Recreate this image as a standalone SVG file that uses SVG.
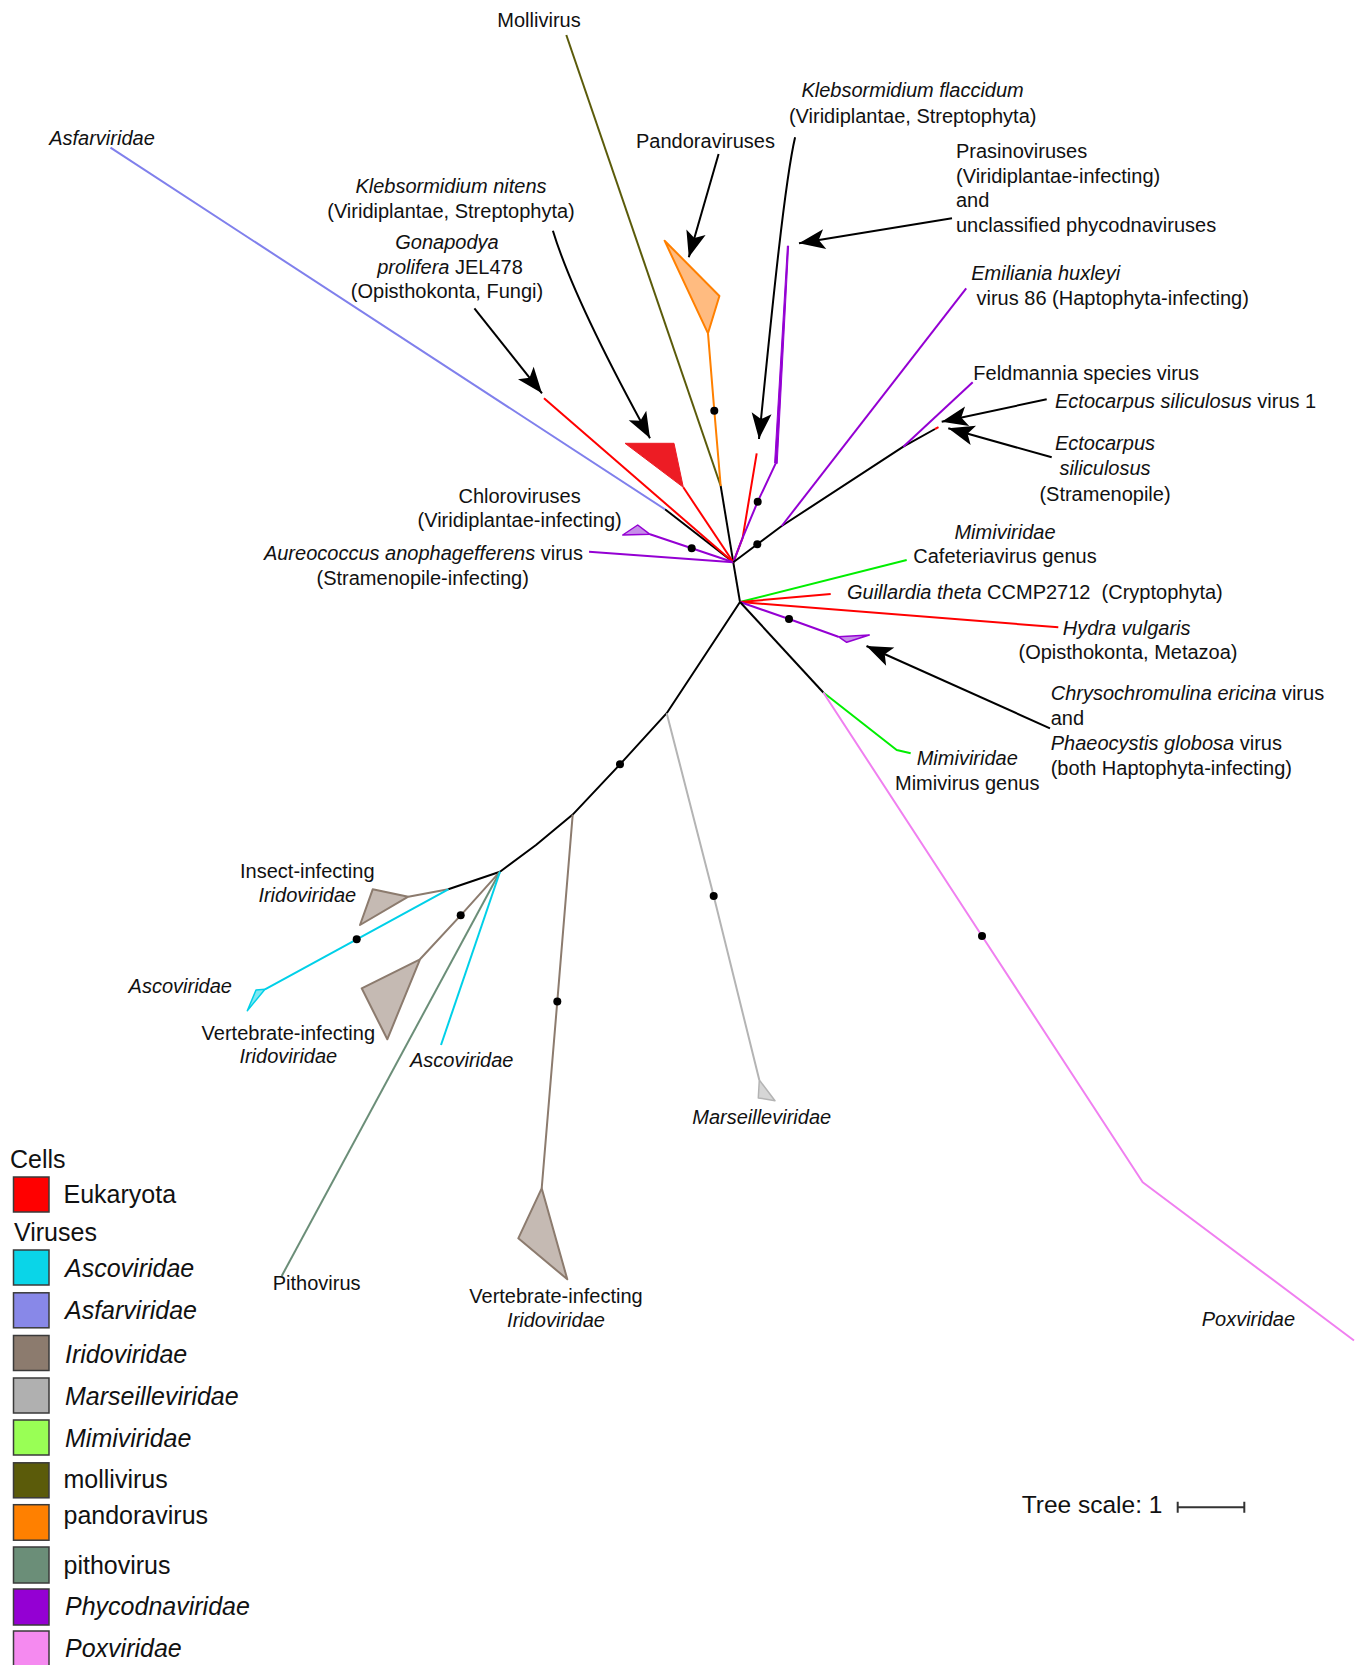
<svg xmlns="http://www.w3.org/2000/svg" width="1363" height="1665" viewBox="0 0 1363 1665">
<style>
text{font-family:"Liberation Sans",Arial,sans-serif;font-size:20px;fill:#111;white-space:pre}
.it{font-style:italic}
.m{text-anchor:middle}
.e{text-anchor:end}
.lg{font-size:25px}
.br{fill:none;stroke-width:2;stroke-linejoin:round;stroke-linecap:butt}
.k{stroke:#000}.r{stroke:#ff0000}.pu{stroke:#9400d3}.gr{stroke:#00ee00}.bl{stroke:#8080ec}
.ol{stroke:#5b5b0a}.or{stroke:#ff8000}.bn{stroke:#8c7b6e}.gy{stroke:#b4b4b4}.cy{stroke:#00d0e8}.pg{stroke:#6b8e78}.pk{stroke:#f080f0}
.dot{fill:#000}
.arr{fill:none;stroke:#000;stroke-width:2;marker-end:url(#ah)}
.box{stroke:#3a3a3a;stroke-width:1.5}
</style>
<defs>
<marker id="ah" markerUnits="userSpaceOnUse" markerWidth="30" markerHeight="24" viewBox="-27 -12 30 24" refX="0" refY="0" orient="auto">
<path d="M0,0 L-26,-10 L-20,0 L-26,10 Z" fill="#000"/>
</marker>
</defs>
<rect width="1363" height="1665" fill="#fff"/>

<g id="connectors">
<!-- tree branches -->
<polyline class="br k" points="740,602 733.3,562.3"/>
<polyline class="br k" points="733.3,562.3 720.7,486"/>
<polyline class="br ol" points="720.7,486 566.3,35"/>
<polyline class="br or" points="720.7,486 714.3,410.7 708,333.3"/>
<polyline class="br k" points="733.3,562.3 665,509.3"/>
<polyline class="br bl" points="665,509.3 110.5,147.7"/>
<polyline class="br r" points="733.3,562.3 544,398.3"/>
<polyline class="br r" points="733.3,562.3 683.3,487.3"/>
<polyline class="br pu" points="733.3,562.3 691.7,548.3 650,534.3"/>
<polyline class="br pu" points="733.3,562.3 589,551.7"/>
<polyline class="br r" points="733.3,562.3 742.7,537.7 756.7,453.3"/>
<polyline class="br pu" points="733.3,562.3 742.7,537.7 757.7,501.7 775.7,463.3"/>
<polyline class="br k" points="733.3,562.3 757.3,544.3 781.7,526 903.3,446.7 935,429"/>
<polyline class="br r" points="935,429 938.5,427.2"/>
<polyline class="br pu" points="781.7,526 966.2,288.3"/>
<polyline class="br pu" points="903.3,446.7 972.7,382.3"/>
<polyline class="br gr" points="740,602 906.7,560"/>
<polyline class="br r" points="740,602 830.7,594"/>
<polyline class="br r" points="740,602 1058.3,627.3"/>
<polyline class="br pu" points="740,602 789,619 838.3,636.7"/>
<polyline class="br k" points="740,602 823.3,692.5"/>
<polyline class="br gr" points="823.3,692.5 896.7,750 910.7,753.3"/>
<polyline class="br pk" points="823.3,692.5 982,936 1142.7,1182.3 1354,1340.5"/>
<polyline class="br k" points="740,602 666.7,713.2 620,764.3 572.7,814.6 536,845 500,871.7 448.3,889.3"/>
<polyline class="br gy" points="666.7,713.2 713.7,896 759.3,1080"/>
<polyline class="br bn" points="572.7,814.6 557.3,1001.4 541.7,1188.3"/>
<polyline class="br bn" points="448.3,889.3 408.3,896.7"/>
<polyline class="br cy" points="448.3,889.3 356.7,939.3 265,989.3"/>
<polyline class="br bn" points="500,871.7 460.7,915.3 420,959.3"/>
<polyline class="br pg" points="500,871.7 281.7,1276"/>
<polyline class="br cy" points="500,871.7 441,1045"/>
<!-- support dots -->
<circle class="dot" cx="714.3" cy="410.7" r="4"/>
<circle class="dot" cx="757.7" cy="501.7" r="4"/>
<circle class="dot" cx="757.3" cy="544.3" r="4"/>
<circle class="dot" cx="691.7" cy="548.3" r="4"/>
<circle class="dot" cx="789" cy="619" r="4"/>
<circle class="dot" cx="620" cy="764.3" r="4"/>
<circle class="dot" cx="713.7" cy="896" r="4"/>
<circle class="dot" cx="557.3" cy="1001.4" r="4"/>
<circle class="dot" cx="460.7" cy="915.3" r="4"/>
<circle class="dot" cx="356.7" cy="939.3" r="4"/>
<circle class="dot" cx="982" cy="936" r="4"/>
<!-- annotation arrows -->
<path class="arr" d="M718.6,154 L688.8,257.3"/>
<path class="arr" d="M795.1,137.3 C784,185 770,330 759,439"/>
<path class="arr" d="M952,218.3 L799,243.3"/>
<path class="arr" d="M552.9,230.7 Q574,300 650,438.3"/>
<path class="arr" d="M474.4,308.3 L542,393.3"/>
<path class="arr" d="M1046.7,399.3 L941.7,421.7"/>
<path class="arr" d="M1051.7,457.3 L948.3,428.3"/>
<path class="arr" d="M1050,728.3 L866.5,646"/>
</g>

<g id="mollivirus"><text class="m" x="539" y="26.7">Mollivirus</text></g>
<g id="pandoraviruses">
<polygon points="708,333.3 719.4,296 664.6,240.7" fill="#ffbb80" stroke="#ff8000" stroke-width="2" stroke-linejoin="round"/>
<text class="m" x="705.5" y="147.7">Pandoraviruses</text>
</g>
<g id="asfarviridae"><text class="it m" x="102" y="145">Asfarviridae</text></g>
<g id="klebsormidium-nitens">
<polygon points="625,443.3 674,443.3 683.3,487.3" fill="#ed1c24" stroke="#ed1c24" stroke-width="1"/>
<text class="it m" x="451" y="193">Klebsormidium nitens</text>
<text class="m" x="451" y="218.3">(Viridiplantae, Streptophyta)</text>
</g>
<g id="gonapodya">
<text class="it m" x="447" y="249.3">Gonapodya</text>
<text class="m" x="450" y="274"><tspan class="it">prolifera</tspan> JEL478</text>
<text class="m" x="447" y="298.3">(Opisthokonta, Fungi)</text>
</g>
<g id="chloroviruses">
<polygon points="622.7,535 637.7,525 650,534.3" fill="#c68ee8" stroke="#9400d3" stroke-width="1.5" stroke-linejoin="round"/>
<text class="m" x="519.6" y="502.7">Chloroviruses</text>
<text class="m" x="519.6" y="527.3">(Viridiplantae-infecting)</text>
</g>
<g id="aureococcus">
<text class="e" x="583" y="560"><tspan class="it">Aureococcus anophagefferens</tspan> virus</text>
<text class="m" x="422.7" y="585">(Stramenopile-infecting)</text>
</g>
<g id="klebsormidium-flaccidum">
<text class="it m" x="912.6" y="97.3">Klebsormidium flaccidum</text>
<text class="m" x="912.7" y="122.7">(Viridiplantae, Streptophyta)</text>
</g>
<g id="prasinoviruses">
<polygon points="787.4,246 788.6,246 777.2,463.5 774.6,463" fill="#9400d3" stroke="#9400d3" stroke-width="1" stroke-linejoin="round"/>
<text x="956" y="158.3">Prasinoviruses</text>
<text x="956" y="182.7">(Viridiplantae-infecting)</text>
<text x="956" y="207.3">and</text>
<text x="956" y="231.7">unclassified phycodnaviruses</text>
</g>
<g id="emiliania">
<text class="it" x="971.2" y="280">Emiliania huxleyi</text>
<text x="976.5" y="305">virus 86 (Haptophyta-infecting)</text>
</g>
<g id="feldmannia"><text x="973.3" y="380">Feldmannia species virus</text></g>
<g id="ectocarpus-virus"><text x="1055" y="408.3"><tspan class="it">Ectocarpus siliculosus</tspan> virus 1</text></g>
<g id="ectocarpus">
<text class="it m" x="1105" y="450">Ectocarpus</text>
<text class="it m" x="1105" y="475">siliculosus</text>
<text class="m" x="1105" y="500.7">(Stramenopile)</text>
</g>
<g id="cafeteriavirus">
<text class="it m" x="1005" y="539.3">Mimiviridae</text>
<text x="913.3" y="563.3">Cafeteriavirus genus</text>
</g>
<g id="guillardia"><text x="847" y="599.3"><tspan class="it">Guillardia theta</tspan> CCMP2712  (Cryptophyta)</text></g>
<g id="hydra">
<text class="it" x="1062.7" y="635">Hydra vulgaris</text>
<text class="m" x="1128" y="659.3">(Opisthokonta, Metazoa)</text>
</g>
<g id="haptophyta-viruses">
<polygon points="838.3,636.7 846.7,642.3 869.3,635" fill="#c68ee8" stroke="#9400d3" stroke-width="1.5" stroke-linejoin="round"/>
<text x="1050.7" y="700"><tspan class="it">Chrysochromulina ericina</tspan> virus</text>
<text x="1050.7" y="725">and</text>
<text x="1050.7" y="750"><tspan class="it">Phaeocystis globosa</tspan> virus</text>
<text x="1050.7" y="775">(both Haptophyta-infecting)</text>
</g>
<g id="mimivirus">
<text class="it" x="916.7" y="765">Mimiviridae</text>
<text x="895" y="790">Mimivirus genus</text>
</g>
<g id="poxviridae"><text class="it" x="1201.7" y="1326">Poxviridae</text></g>
<g id="marseilleviridae">
<polygon points="759.3,1080 758.3,1097.9 775,1100.7" fill="#d6d6d6" stroke="#b4b4b4" stroke-width="1.5" stroke-linejoin="round"/>
<text class="it m" x="761.7" y="1124">Marseilleviridae</text>
</g>
<g id="vertebrate-iridoviridae-2">
<polygon points="541.7,1188.3 518.3,1238.3 567.3,1279.3" fill="#c5bab3" stroke="#8c7b6e" stroke-width="2" stroke-linejoin="round"/>
<text class="m" x="556" y="1303.3">Vertebrate-infecting</text>
<text class="it m" x="556" y="1326.7">Iridoviridae</text>
</g>
<g id="insect-iridoviridae">
<polygon points="408.3,896.7 372.7,889.3 360,925" fill="#c5bab3" stroke="#8c7b6e" stroke-width="2" stroke-linejoin="round"/>
<text class="m" x="307.3" y="878.3">Insect-infecting</text>
<text class="it m" x="307.3" y="901.7">Iridoviridae</text>
</g>
<g id="ascoviridae-1">
<polygon points="265,989.3 256,990 247.3,1010.7" fill="#80e8f2" stroke="#00d0e8" stroke-width="1.5" stroke-linejoin="round"/>
<text class="it e" x="232" y="993.3">Ascoviridae</text>
</g>
<g id="vertebrate-iridoviridae-1">
<polygon points="420,959.3 361.7,988.3 387.3,1039.3" fill="#c5bab3" stroke="#8c7b6e" stroke-width="2" stroke-linejoin="round"/>
<text class="m" x="288.3" y="1040">Vertebrate-infecting</text>
<text class="it m" x="288.3" y="1063.3">Iridoviridae</text>
</g>
<g id="ascoviridae-2"><text class="it m" x="461.7" y="1066.7">Ascoviridae</text></g>
<g id="pithovirus"><text x="272.7" y="1290">Pithovirus</text></g>

<g id="legend">
<text class="lg" x="10" y="1167.5">Cells</text>
<rect class="box" x="13.5" y="1177" width="35.5" height="35" fill="#ff0000"/>
<text class="lg" x="63.5" y="1203.4">Eukaryota</text>
<text class="lg" x="14" y="1241">Viruses</text>
<rect class="box" x="13.5" y="1250" width="35.5" height="35" fill="#0ad5e8"/>
<text class="lg it" x="65" y="1276.8">Ascoviridae</text>
<rect class="box" x="13.5" y="1292.8" width="35.5" height="35" fill="#8888e8"/>
<text class="lg it" x="65" y="1319.4">Asfarviridae</text>
<rect class="box" x="13.5" y="1335.5" width="35.5" height="35" fill="#8c7b6e"/>
<text class="lg it" x="65" y="1362.8">Iridoviridae</text>
<rect class="box" x="13.5" y="1378" width="35.5" height="35" fill="#b0b0b0"/>
<text class="lg it" x="65" y="1404.7">Marseilleviridae</text>
<rect class="box" x="13.5" y="1420" width="35.5" height="35" fill="#99ff55"/>
<text class="lg it" x="65" y="1446.7">Mimiviridae</text>
<rect class="box" x="13.5" y="1462.8" width="35.5" height="35" fill="#5b5b0a"/>
<text class="lg" x="63.5" y="1488.4">mollivirus</text>
<rect class="box" x="13.5" y="1504.7" width="35.5" height="35.5" fill="#ff8000"/>
<text class="lg" x="63.5" y="1524.2">pandoravirus</text>
<rect class="box" x="13.5" y="1547" width="35.5" height="36" fill="#6b8e78"/>
<text class="lg" x="63.5" y="1573.7">pithovirus</text>
<rect class="box" x="13.5" y="1589" width="35.5" height="36" fill="#9400d3"/>
<text class="lg it" x="65" y="1614.6">Phycodnaviridae</text>
<rect class="box" x="13.5" y="1631" width="35.5" height="36" fill="#f58af0"/>
<text class="lg it" x="65" y="1657.3">Poxviridae</text>
</g>

<g id="tree-scale">
<text x="1021.7" y="1512.7" style="font-size:24.5px">Tree scale: 1</text>
<path d="M1177.7,1507.3 H1244.3 M1177.7,1501.8 V1512.8 M1244.3,1501.8 V1512.8" fill="none" stroke="#333" stroke-width="2"/>
</g>
</svg>
